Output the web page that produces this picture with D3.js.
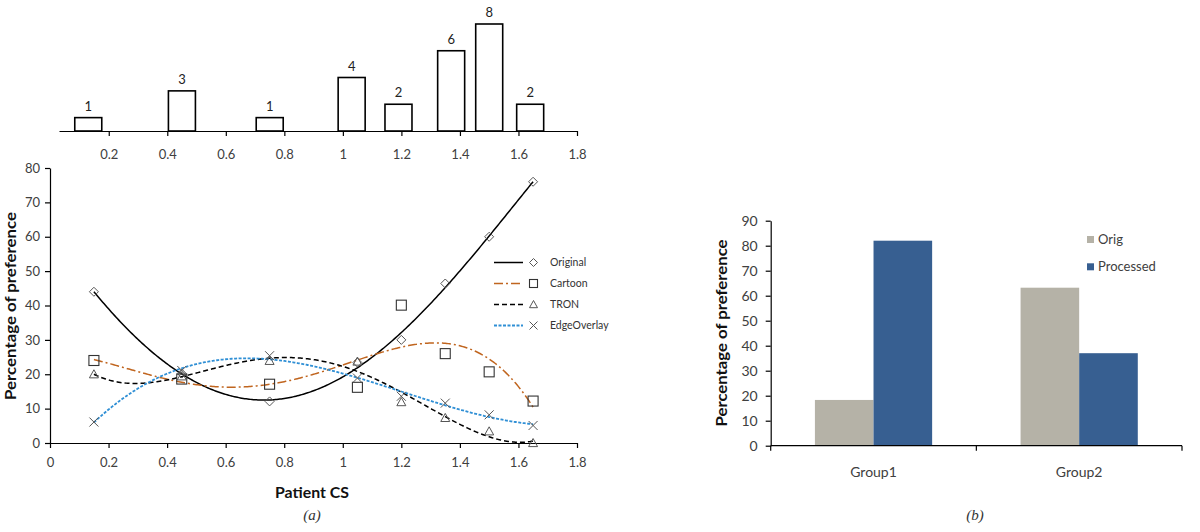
<!DOCTYPE html>
<html><head><meta charset="utf-8">
<script src="https://cdn.jsdelivr.net/npm/d3@7"></script>
<style>
body{margin:0;background:#fff;}
svg{display:block;font-family:Lato,"Open Sans",sans-serif;}
</style></head>
<body><svg id="c" width="1200" height="532"></svg>
<script>
// ---- data ----
const xVals = [0.15, 0.45, 0.75, 1.05, 1.2, 1.35, 1.5, 1.65];
const originalVals = [44, 20.2, 12.1, 23.4, 30, 46.4, 60, 76];
const cartoonVals = [24, 18.6, 17.1, 16.2, 40.1, 26, 20.7, 12.2];
const tronVals = [20, 19.4, 23.9, 23.7, 11.9, 7.3, 3.4, 0];
const edgeVals = [6.1, 21.1, 25.4, 18.9, 13.6, 11.6, 8.2, 5.1];
const seriesNames = ["Original", "Cartoon", "TRON", "EdgeOverlay"];
const fitOrders = [4, 4, 4, 4];

const histX = [0.13, 0.45, 0.75, 1.03, 1.19, 1.37, 1.5, 1.64];
const histCounts = [1, 3, 1, 4, 2, 6, 8, 2];

const xTicks = [0, 0.2, 0.4, 0.6, 0.8, 1, 1.2, 1.4, 1.6, 1.8];
const histTicks = [0.2, 0.4, 0.6, 0.8, 1, 1.2, 1.4, 1.6, 1.8];
const yTicksA = [0, 10, 20, 30, 40, 50, 60, 70, 80];

const groups = ["Group1", "Group2"];
const barSeries = ["Orig", "Processed"];
const origBars = [18.3, 63.2];
const processedBars = [82, 37];
const yTicksB = [0, 10, 20, 30, 40, 50, 60, 70, 80, 90];

// ---- helpers ----
function polyFit(xs, ys, order) {
  const n = order + 1;
  const A = Array.from({length: n}, () => new Array(n + 1).fill(0));
  for (let i = 0; i < xs.length; i++) {
    for (let r = 0; r < n; r++) {
      for (let c = 0; c < n; c++) A[r][c] += Math.pow(xs[i], r + c);
      A[r][n] += ys[i] * Math.pow(xs[i], r);
    }
  }
  for (let col = 0; col < n; col++) {
    let piv = col;
    for (let r = col + 1; r < n; r++) if (Math.abs(A[r][col]) > Math.abs(A[piv][col])) piv = r;
    [A[col], A[piv]] = [A[piv], A[col]];
    for (let r = 0; r < n; r++) {
      if (r === col) continue;
      const f = A[r][col] / A[col][col];
      for (let c = col; c <= n; c++) A[r][c] -= f * A[col][c];
    }
  }
  const coef = A.map((row, i) => row[n] / row[i]);
  return x => coef.reduce((s, c, i) => s + c * Math.pow(x, i), 0);
}

const svg = d3.select("#c");
const txt = "#404040";

function styleAxis(g, fs) {
  g.selectAll("path.domain").attr("stroke", "#000").attr("stroke-width", 1.2);
  g.selectAll(".tick line").attr("stroke", "#000").attr("stroke-width", 1.2);
  g.selectAll(".tick text").attr("fill", txt).attr("font-size", fs).attr("font-family", "Lato,'Open Sans',sans-serif");
}

// ===== Chart (a) =====
const x = d3.scaleLinear().domain([0, 1.8]).range([50, 577]);
const y = d3.scaleLinear().domain([0, 80]).range([443, 168]);

// histogram
const hx = d3.scaleLinear().domain([0.03, 1.8]).range([59, 577]);
const hy = d3.scaleLinear().domain([0, 8]).range([131, 24]);
const barW = 27;
const hg = svg.append("g");
hg.selectAll("rect").data(histCounts).join("rect")
  .attr("x", (d, i) => hx(histX[i]) - barW / 2)
  .attr("y", d => hy(d))
  .attr("width", barW)
  .attr("height", d => hy(0) - hy(d))
  .attr("fill", "#fff").attr("stroke", "#000").attr("stroke-width", 1.6);
hg.selectAll("text.cnt").data(histCounts).join("text").attr("class", "cnt")
  .attr("x", (d, i) => hx(histX[i]))
  .attr("y", d => hy(d) - 7)
  .attr("text-anchor", "middle").attr("font-size", 13).attr("fill", "#222")
  .text(d => d);
const hAxis = svg.append("g").attr("transform", `translate(0,${hy(0)})`)
  .call(d3.axisBottom(hx).tickValues(histTicks).tickSize(5).tickSizeOuter(0).tickPadding(14).tickFormat(d3.format("~g")));
styleAxis(hAxis, 13);

// main axes
const xAxA = svg.append("g").attr("transform", `translate(0,${y(0)})`)
  .call(d3.axisBottom(x).tickValues(xTicks).tickSize(5).tickSizeOuter(0).tickPadding(10).tickFormat(d3.format("~g")));
styleAxis(xAxA, 13);
const yAxA = svg.append("g").attr("transform", `translate(${x(0)},0)`)
  .call(d3.axisLeft(y).tickValues(yTicksA).tickSize(5).tickSizeOuter(0).tickPadding(5));
styleAxis(yAxA, 13);

svg.append("text").attr("transform", `translate(16,306) rotate(-90)`)
  .attr("text-anchor", "middle").attr("font-weight", "bold").attr("font-size", 15)
  .attr("textLength", 188).attr("lengthAdjust", "spacingAndGlyphs").attr("fill", "#111")
  .text("Percentage of preference");
svg.append("text").attr("x", 312).attr("y", 498).attr("text-anchor", "middle")
  .attr("font-weight", "bold").attr("font-size", 15).attr("fill", "#111")
  .attr("textLength", 74).attr("lengthAdjust", "spacingAndGlyphs").text("Patient CS");
svg.append("text").attr("x", 312).attr("y", 520).attr("text-anchor", "middle")
  .attr("font-style", "italic").attr("font-family", "'Liberation Serif',serif").attr("font-size", 15).attr("fill", "#333")
  .text("(a)");

const seriesData = [originalVals, cartoonVals, tronVals, edgeVals];
const lineStyles = [
  {color: "#000", dash: null, w: 1.5},
  {color: "#c0651f", dash: "9,3,2,3", w: 1.5},
  {color: "#000", dash: "5,3", w: 1.5},
  {color: "#2f8fd5", dash: "3,1.5", w: 1.8}
];
const markerStroke = "#555";

function drawMarker(g, type, cx, cy, s) {
  if (type === 0) {
    g.append("path").attr("d", `M${cx},${cy - s}L${cx + s},${cy}L${cx},${cy + s}L${cx - s},${cy}Z`)
      .attr("fill", "none").attr("stroke", markerStroke).attr("stroke-width", 1);
  } else if (type === 1) {
    g.append("rect").attr("x", cx - s).attr("y", cy - s).attr("width", 2 * s).attr("height", 2 * s)
      .attr("fill", "none").attr("stroke", "#333").attr("stroke-width", 1.1);
  } else if (type === 2) {
    g.append("path").attr("d", `M${cx},${cy - s}L${cx + s},${cy + s * 0.8}L${cx - s},${cy + s * 0.8}Z`)
      .attr("fill", "none").attr("stroke", markerStroke).attr("stroke-width", 1);
  } else {
    g.append("path").attr("d", `M${cx - s},${cy - s}L${cx + s},${cy + s}M${cx - s},${cy + s}L${cx + s},${cy - s}`)
      .attr("fill", "none").attr("stroke", markerStroke).attr("stroke-width", 1);
  }
}

const line = d3.line().x(d => x(d[0])).y(d => y(d[1]));
const gLines = svg.append("g");
seriesData.forEach((vals, si) => {
  const f = polyFit(xVals, vals, fitOrders[si]);
  const pts = d3.range(0, 301).map(k => {
    const xv = xVals[0] + (xVals[xVals.length - 1] - xVals[0]) * k / 300;
    return [xv, f(xv)];
  });
  const st = lineStyles[si];
  gLines.append("path").attr("d", line(pts)).attr("fill", "none")
    .attr("stroke", st.color).attr("stroke-width", st.w)
    .attr("stroke-dasharray", st.dash);
});
const gMarks = svg.append("g");
seriesData.forEach((vals, si) => {
  vals.forEach((v, i) => drawMarker(gMarks, si, x(xVals[i]), y(v), si === 1 ? 5 : 4.5));
});

// legend (a)
const lg = svg.append("g");
seriesNames.forEach((name, i) => {
  const ly = 262.5 + i * 21;
  const st = lineStyles[i];
  lg.append("line").attr("x1", 494).attr("x2", 523).attr("y1", ly).attr("y2", ly)
    .attr("stroke", st.color).attr("stroke-width", st.w).attr("stroke-dasharray", st.dash);
  drawMarker(lg, i, 533.5, ly, 4);
  lg.append("text").attr("x", 550).attr("y", ly).attr("dy", "0.35em")
    .attr("font-size", 10.5).attr("fill", "#333").text(name);
});

// ===== Chart (b) =====
const xb = d3.scaleBand().domain(groups).range([770.7, 1182]).paddingInner(0.43).paddingOuter(0.215);
const xs = d3.scaleBand().domain(barSeries).range([0, xb.bandwidth()]);
const yb = d3.scaleLinear().domain([0, 90]).range([445.7, 220.7]);
const barColors = {Orig: "#b5b2a7", Processed: "#375f91"};
const barRows = groups.map((g, i) => ({group: g, vals: [origBars[i], processedBars[i]]}));

const gb = svg.append("g");
barRows.forEach(r => {
  r.vals.forEach((v, j) => {
    gb.append("rect")
      .attr("x", xb(r.group) + xs(barSeries[j]))
      .attr("y", yb(v))
      .attr("width", xs.bandwidth())
      .attr("height", yb(0) - yb(v))
      .attr("fill", barColors[barSeries[j]]);
  });
});

const yAxB = svg.append("g").attr("transform", `translate(770.7,0)`)
  .call(d3.axisLeft(yb).tickValues(yTicksB).tickSize(5).tickSizeOuter(0).tickPadding(8));
styleAxis(yAxB, 14);

const step = xb.step();
const bounds = [770.7, 770.7 + step, 1182];
svg.append("line").attr("x1", 770.7).attr("x2", 1182).attr("y1", yb(0)).attr("y2", yb(0))
  .attr("stroke", "#000").attr("stroke-width", 1.2);
svg.selectAll("line.bt").data(bounds).join("line").attr("class", "bt")
  .attr("x1", d => d).attr("x2", d => d).attr("y1", yb(0)).attr("y2", yb(0) + 5)
  .attr("stroke", "#000").attr("stroke-width", 1.2);
svg.selectAll("text.gl").data(groups).join("text").attr("class", "gl")
  .attr("x", d => xb(d) + xb.bandwidth() / 2).attr("y", 472).attr("dy", "0.35em")
  .attr("text-anchor", "middle").attr("font-size", 14).attr("fill", txt).text(d => d);

svg.append("text").attr("transform", `translate(727,333) rotate(-90)`)
  .attr("text-anchor", "middle").attr("font-weight", "bold").attr("font-size", 15)
  .attr("textLength", 187).attr("lengthAdjust", "spacingAndGlyphs").attr("fill", "#111")
  .text("Percentage of preference");

barSeries.forEach((s, i) => {
  const ly = 239.5 + i * 27.3;
  svg.append("rect").attr("x", 1087).attr("y", ly - 3.5).attr("width", 7).attr("height", 7).attr("fill", barColors[s]);
  svg.append("text").attr("x", 1098).attr("y", ly).attr("dy", "0.35em").attr("font-size", 13).attr("fill", txt).text(s);
});

svg.append("text").attr("x", 975).attr("y", 520).attr("text-anchor", "middle")
  .attr("font-style", "italic").attr("font-family", "'Liberation Serif',serif").attr("font-size", 15).attr("fill", "#333")
  .text("(b)");
</script>
</body></html>
